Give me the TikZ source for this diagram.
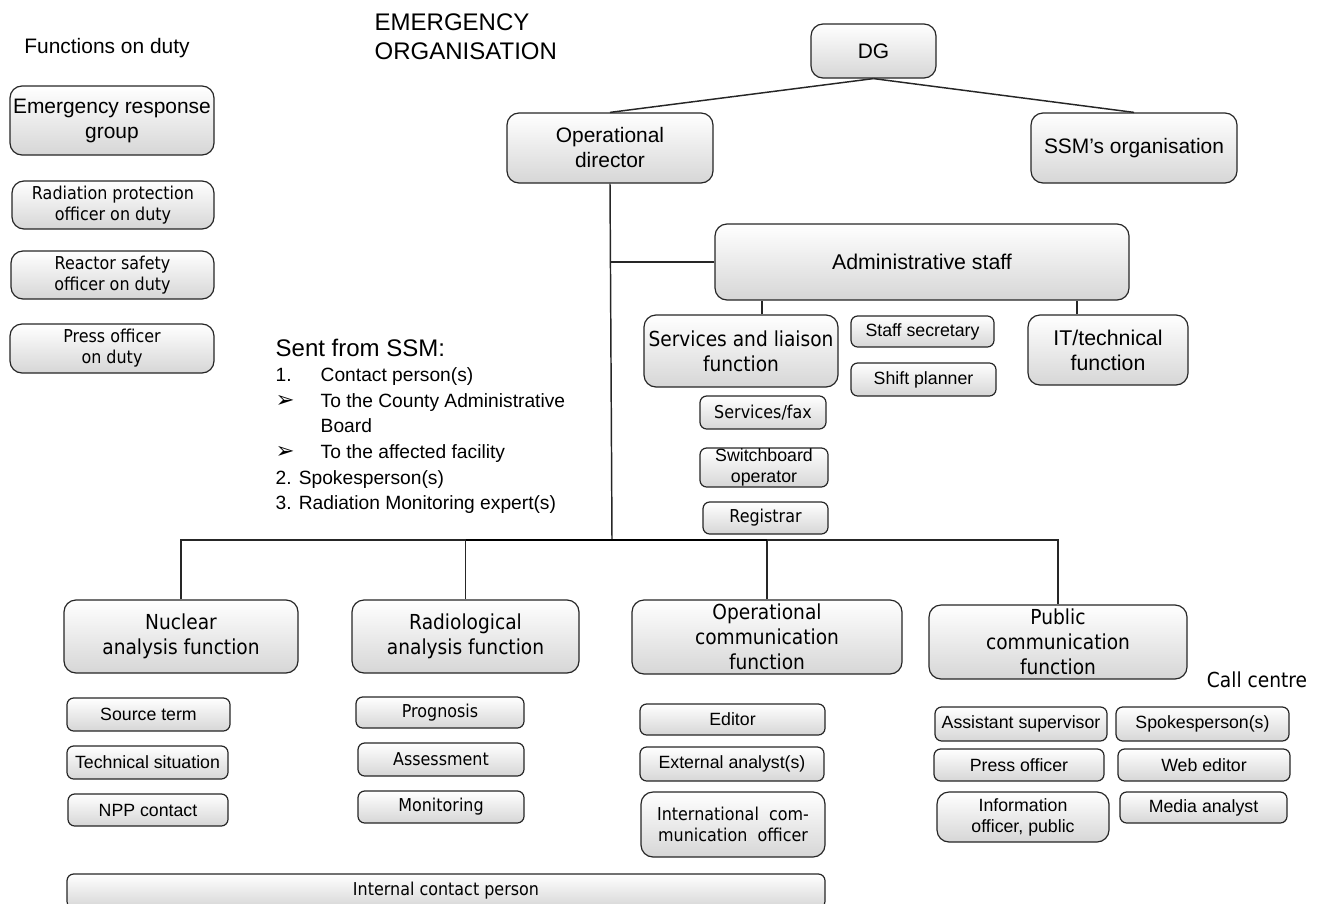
\documentclass[tikz,border=0pt]{standalone}
\usepackage{fontspec}
\setmainfont{Liberation Sans}
\newfontfamily\tahoma{DejaVu Sans}[FakeStretch=0.9]
\newfontfamily\dingfont{DejaVu Sans}

\tikzset{
  orgbox/.style={draw=black!85, line width=.9pt, top color=white, bottom color=black!16, inner sep=0pt, align=center},
  bigbox/.style={orgbox, rounded corners=9pt},
  smallbox/.style={orgbox, rounded corners=5pt},
  boxsize/.style 2 args={minimum width=#1*.75pt, minimum height=#2*.75pt},
  arialbig/.style={font=\fontsize{15.7}{18.75}\selectfont},
  arialsmall/.style={font=\fontsize{13.3}{15.75}\selectfont},
  tahomabig/.style={font=\tahoma\fontsize{15.5}{18.75}\selectfont},
  tahomasmall/.style={font=\tahoma\fontsize{13.3}{15.75}\selectfont},
  link/.style={line width=1.1pt, black!85},
}

\begin{document}
\begin{tikzpicture}[x=.75pt, y=-.75pt]
        \useasboundingbox (0,0) rectangle (1320,903);

        % Ueberschriften
        \node[font=\fontsize{15.7}{18}\selectfont] (fod) at (107,48) {Functions on duty};
        \node[font=\fontsize{18}{21.75}\selectfont, align=left, anchor=west] (title) at (370,37) {EMERGENCY\\ORGANISATION};

        % Funktionen im Dienst
        \node[bigbox, arialbig, boxsize={204}{69}] (erg) at (112,120.5) {Emergency response\\group};
        \node[bigbox, tahomasmall, boxsize={202}{48}] (rpo) at (113,205) {Radiation protection\\officer on duty};
        \node[bigbox, tahomasmall, boxsize={203}{48}] (rso) at (112.5,275) {Reactor safety\\officer on duty};
        \node[bigbox, tahomasmall, boxsize={204}{49}] (pod) at (112,348.5) {Press officer\\on duty};

        % Leitung
        \node[bigbox, arialbig, boxsize={125}{54}] (dg) at (873.5,51) {DG};
        \node[bigbox, arialbig, boxsize={206}{70}] (opdir) at (610,148) {Operational\\director};
        \node[bigbox, arialbig, boxsize={206}{70}] (ssm) at (1134,148) {SSM’s organisation};

        % Stab
        \node[bigbox, font=\fontsize{16}{19}\selectfont, boxsize={414}{76}] (admin) at (922,262) {Administrative staff};
        \node[bigbox, tahomabig, boxsize={194}{72}] (serv) at (741,351) {Services and liaison\\function};
        \node[smallbox, arialsmall, boxsize={143}{31}] (secr) at (922.5,331.5) {Staff secretary};
        \node[smallbox, arialsmall, boxsize={145}{33}] (shift) at (923.5,379.5) {Shift planner};
        \node[bigbox, font=\fontsize{16}{18.75}\selectfont, boxsize={160}{70}] (it) at (1108,350) {IT/technical\\function};
        \node[smallbox, tahomasmall, boxsize={126}{33}] (fax) at (763,412.5) {Services/fax};
        \node[smallbox, arialsmall, boxsize={128}{39}] (switch) at (764,467.5) {Switchboard\\operator};
        \node[smallbox, tahomasmall, boxsize={125}{32}] (reg) at (765.5,518) {Registrar};

        % Von SSM entsandt
        \node[anchor=north west, align=left, font=\fontsize{14.4}{19.2}\selectfont] (sent) at (271,334) {%
            {\fontsize{18}{21}\selectfont Sent from SSM:}\\
            \makebox[33.75pt][l]{1.}Contact person(s)\\
            \makebox[33.75pt][l]{\dingfont\fontsize{17}{19}\selectfont ➢}To the County Administrative\\
            \makebox[33.75pt][l]{}Board\\
            \makebox[33.75pt][l]{\dingfont\fontsize{17}{19}\selectfont ➢}To the affected facility\\
            2. Spokesperson(s)\\
            3. Radiation Monitoring expert(s)};

        % Funktionen
        \node[bigbox, tahomabig, boxsize={234}{73}] (nuc) at (181,636.5) {Nuclear\\analysis function};
        \node[bigbox, tahomabig, boxsize={227}{73}] (rad) at (465.5,636.5) {Radiological\\analysis function};
        \node[bigbox, tahomabig, boxsize={270}{74}] (opc) at (767,637) {Operational\\communication\\function};
        \node[bigbox, tahomabig, boxsize={258}{74}] (pub) at (1058,642) {Public\\communication\\function};
        \node[tahomabig] (call) at (1257,680) {Call centre};

        % Nuclear analysis
        \node[smallbox, arialsmall, boxsize={163}{33}] (src) at (148.5,714.5) {Source term};
        \node[smallbox, arialsmall, boxsize={161}{33}] (tech) at (147.5,762.5) {Technical situation};
        \node[smallbox, arialsmall, boxsize={160}{32}] (npp) at (148,810) {NPP contact};

        % Radiological analysis
        \node[smallbox, tahomasmall, boxsize={168}{31}] (prog) at (440,712.5) {Prognosis};
        \node[smallbox, tahomasmall, boxsize={166}{33}] (assess) at (441,759.5) {Assessment};
        \node[smallbox, tahomasmall, boxsize={166}{32}] (monit) at (441,807) {Monitoring};

        % Operational communication
        \node[smallbox, arialsmall, boxsize={185}{31}] (editor) at (732.5,719.5) {Editor};
        \node[smallbox, arialsmall, boxsize={184}{34}] (extan) at (732,764) {External analyst(s)};
        \node[bigbox, tahomasmall, boxsize={184}{65}] (intcom) at (733,824.5) {International\ \ com-\\munication\ \ officer};

        % Public communication
        \node[smallbox, arialsmall, boxsize={172}{34}] (asup) at (1021,724) {Assistant supervisor};
        \node[smallbox, arialsmall, boxsize={173}{34}] (spokes) at (1202.5,724) {Spokesperson(s)};
        \node[smallbox, arialsmall, boxsize={170}{32}] (press) at (1019,765) {Press officer};
        \node[smallbox, arialsmall, boxsize={172}{32}] (web) at (1204,765) {Web editor};
        \node[bigbox, arialsmall, boxsize={172}{50}] (info) at (1023,817) {Information\\officer, public};
        \node[smallbox, arialsmall, boxsize={167}{31}] (media) at (1203.5,807.5) {Media analyst};

        \node[smallbox, tahomasmall, boxsize={758}{34}] (internal) at (446,891) {Internal contact person};

        % Verbindungen
        \coordinate (bus) at (612,540);
        \draw[link] (dg.south) -- (opdir.north);
        \draw[link] (dg.south) -- (ssm.north);
        \draw[link] (opdir.south) -- (bus);
        \draw[link] (admin.west) -- (admin.west -| opdir.south);
        \path (serv.north) ++(21,0) coordinate (servtop);
        \draw[link] (servtop) -- (servtop |- admin.south);
        \path (it.north) ++(-31,0) coordinate (ittop);
        \draw[link] (ittop) -- (ittop |- admin.south);
        \draw[link] (nuc.north) -- (nuc.north |- bus) -- (pub.north |- bus) -- (pub.north);
        \draw[link] (rad.north) -- (rad.north |- bus);
        \draw[link] (opc.north) -- (opc.north |- bus);
        \draw[line width=2.2pt] (rad.north |- bus) -- (opc.north |- bus);
    \end{tikzpicture}
\end{document}
